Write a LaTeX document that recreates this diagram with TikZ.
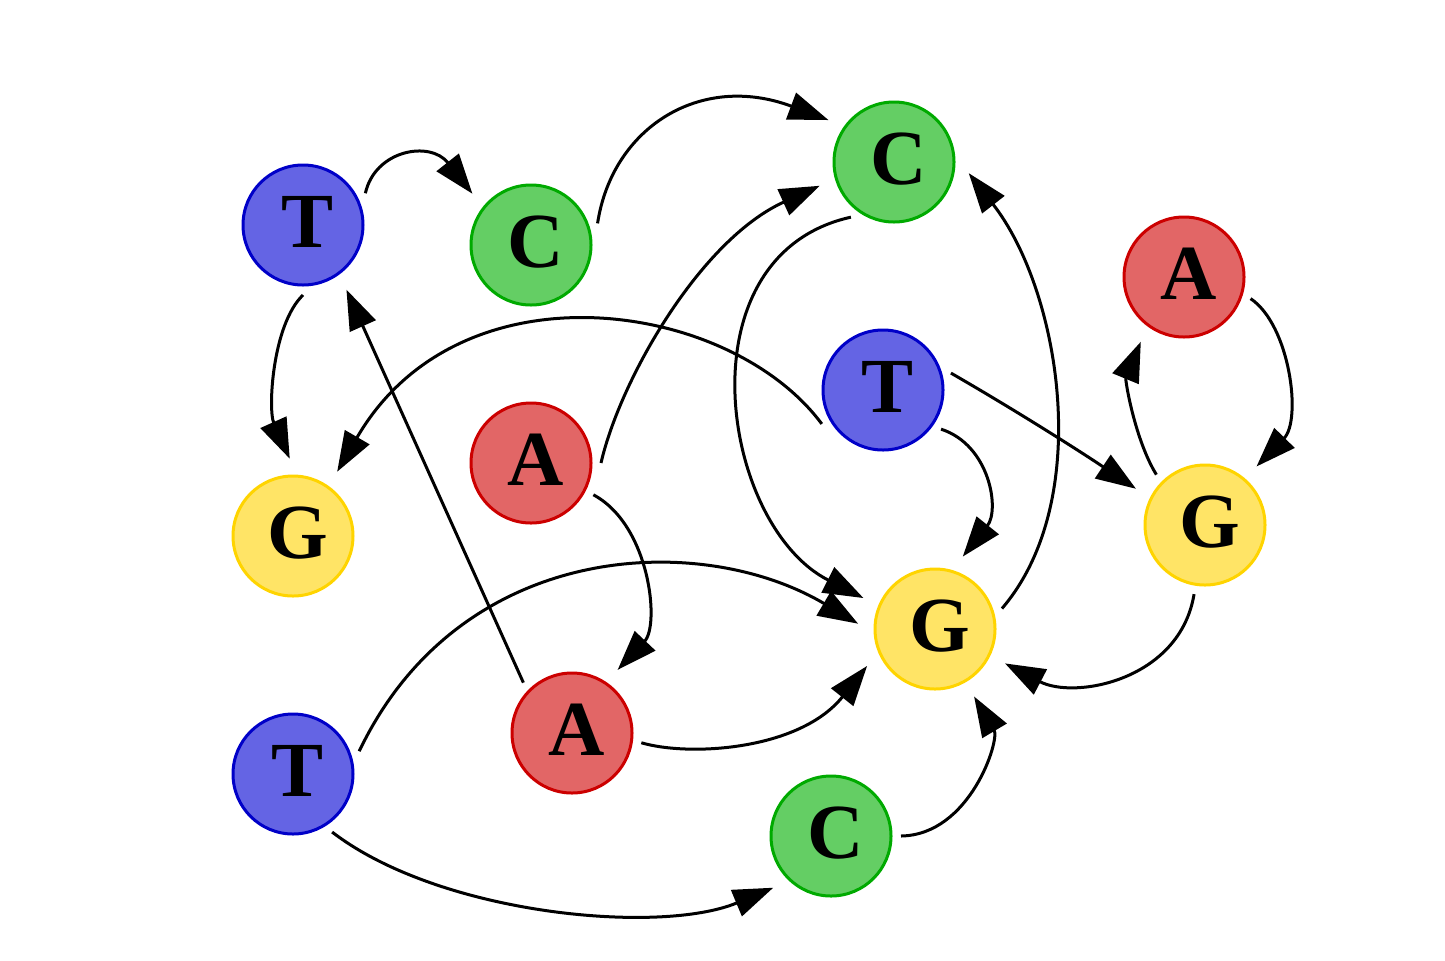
\documentclass[tikz,border=0pt]{standalone}
\usepackage{fontspec}
\setmainfont{Liberation Serif}
\usetikzlibrary{arrows.meta}
\definecolor{bfill}{RGB}{100,100,228}
\definecolor{bline}{RGB}{0,0,200}
\definecolor{gfill}{RGB}{100,206,100}
\definecolor{gline}{RGB}{0,170,0}
\definecolor{rfill}{RGB}{226,102,102}
\definecolor{rline}{RGB}{204,0,0}
\definecolor{yfill}{RGB}{255,228,102}
\definecolor{yline}{RGB}{255,212,0}
\newcommand{\dnaltr}[1]{\raisebox{3pt}{\hspace*{5pt}#1}}
\tikzset{
  base/.style={circle, minimum size=60pt, inner sep=0pt, outer sep=5pt, line width=1.5pt,
    font=\fontsize{39pt}{39pt}\selectfont\bfseries},
  nT/.style={base, draw=bline, fill=bfill},
  nC/.style={base, draw=gline, fill=gfill},
  nA/.style={base, draw=rline, fill=rfill},
  nG/.style={base, draw=yline, fill=yfill},
  edge/.style={line width=1.5pt, -{Triangle[length=20pt,width=14pt]}, shorten >=4pt}
}
\begin{document}
\begin{tikzpicture}[x=0.5pt,y=-0.5pt]
\useasboundingbox (0,0) rectangle (1445,960);
% nodes
\node[nT] (T1) at (303,225) {\dnaltr{T}};
\node[nC] (C1) at (531,245) {\dnaltr{C}};
\node[nC] (C2) at (894,162) {\dnaltr{C}};
\node[nA] (A1) at (1184,277) {\dnaltr{A}};
\node[nT] (T2) at (883,390) {\dnaltr{T}};
\node[nA] (A2) at (531,463) {\dnaltr{A}};
\node[nG] (G1) at (293,536) {\dnaltr{G}};
\node[nG] (G2) at (1205,525) {\dnaltr{G}};
\node[nG] (G3) at (935,629) {\dnaltr{G}};
\node[nT] (T3) at (293,774) {\dnaltr{T}};
\node[nA] (A3) at (572,733) {\dnaltr{A}};
\node[nC] (C3) at (831,836) {\dnaltr{C}};
% edges
\draw[edge] (T1.27) .. controls (375,150) and (430,140) .. (C1.140);
\draw[edge] (C1.18) .. controls (612,128) and (700,72) .. (C2.146);
\draw[edge] (T1.270) .. controls (272,325) and (268,410) .. (G1.90);
\draw[edge] (A3.134) -- (T1.305);
\draw[edge] (A2.0) .. controls (620,380) and (700,240) .. (C2.197);
\draw[edge] (C2.232) .. controls (680,255) and (720,525) .. (G3.157);
\draw[edge] (G3.17) .. controls (1095,500) and (1060,290) .. (C2.356);
\draw[edge] (T2.209) .. controls (730,300) and (460,260) .. (G1.55);
\draw[edge] (T2.14) .. controls (1015,410) and (1078,450) .. (G2.153);
\draw[edge] (T2.326) .. controls (990,445) and (1000,510) .. (G3.71);
\draw[edge] (A1.342) .. controls (1290,325) and (1302,420) .. (G2.49);
\draw[edge] (G2.134) .. controls (1135,440) and (1125,380) .. (A1.235);
\draw[edge] (G2.261) .. controls (1180,680) and (1075,700) .. (G3.334);
\draw[edge] (A2.333) .. controls (650,525) and (660,625) .. (A3.55);
\draw[edge] (T3.19) .. controls (460,540) and (700,530) .. (G3.179);
\draw[edge] (A3.352) .. controls (690,757) and (800,750) .. (G3.206);
\draw[edge] (T3.304) .. controls (440,915) and (660,935) .. (C3.224);
\draw[edge] (C3.0) .. controls (970,835) and (1000,740) .. (G3.300);
\end{tikzpicture}
\end{document}
